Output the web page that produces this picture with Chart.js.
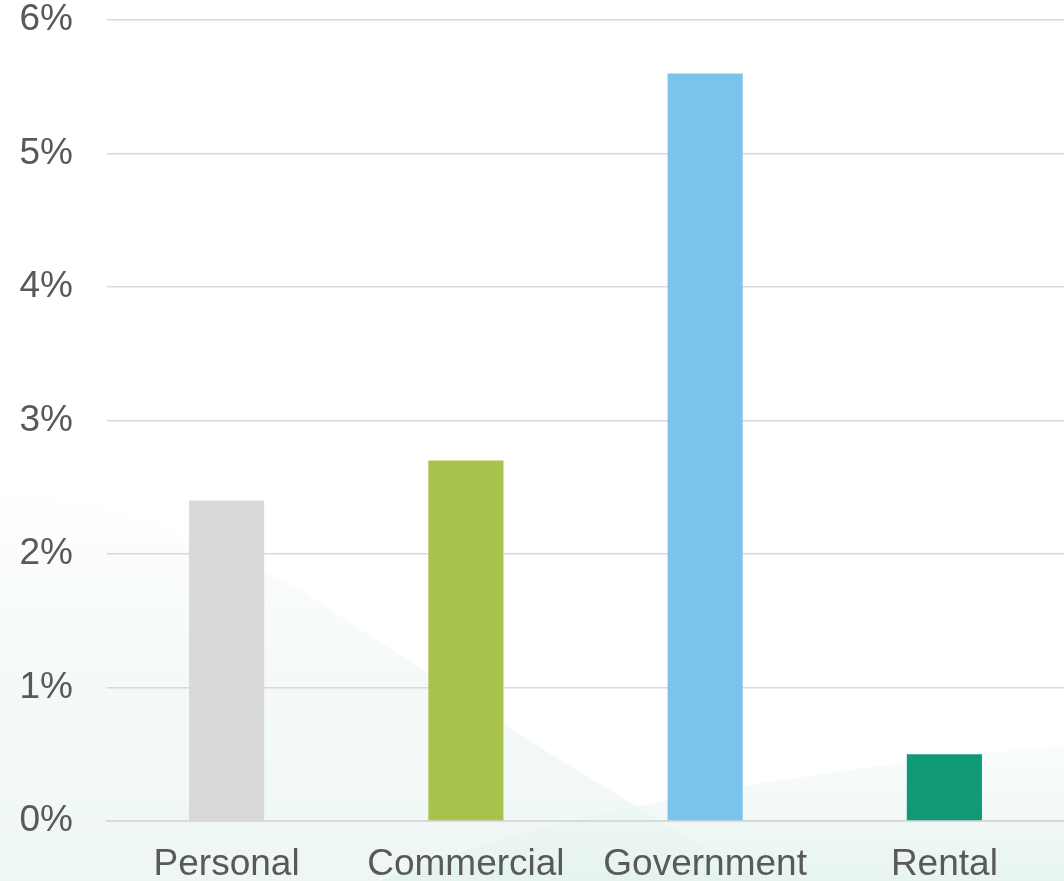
<!DOCTYPE html>
<html>
<head>
<meta charset="utf-8">
<script src="https://cdn.jsdelivr.net/npm/chart.js@4/dist/chart.umd.min.js"></script>
<style>
  html, body { margin: 0; padding: 0; background: #fff; }
  #wrap { width: 1064px; height: 881px; position: relative; }
</style>
</head>
<body>
<div id="wrap"><canvas id="myGraph"></canvas></div>
<script>
// growth by segment, percent
const categories = ['Personal', 'Commercial', 'Government', 'Rental'];
const growth = [2.4, 2.7, 5.6, 0.5];
const yTicks = [0, 1, 2, 3, 4, 5, 6];

const barColors = ['#d9d9d9', '#a8c34b', '#7ac3ea', '#0f9a75'];

// soft mint shapes behind the plot
const backdrop = {
    id: 'backdrop',
    beforeDraw(chart) {
        const ctx = chart.ctx;
        const w = chart.width, h = chart.height;
        ctx.save();
        ctx.fillStyle = '#ffffff';
        ctx.fillRect(0, 0, w, h);

        let g = ctx.createLinearGradient(0, 480, 0, h);
        g.addColorStop(0, 'rgba(240,246,245,0)');
        g.addColorStop(0.4, 'rgba(240,247,246,0.6)');
        g.addColorStop(1, 'rgba(236,246,243,0.9)');
        ctx.fillStyle = g;
        ctx.beginPath();
        ctx.moveTo(0, 490);
        ctx.quadraticCurveTo(120, 495, 300, 590);
        ctx.lineTo(560, 760);
        ctx.lineTo(760, h);
        ctx.lineTo(0, h);
        ctx.closePath();
        ctx.fill();

        g = ctx.createLinearGradient(0, 740, 0, h);
        g.addColorStop(0, 'rgba(242,248,246,0.4)');
        g.addColorStop(1, 'rgba(228,243,237,0.9)');
        ctx.fillStyle = g;
        ctx.beginPath();
        ctx.moveTo(380, h);
        ctx.quadraticCurveTo(600, 790, 1064, 745);
        ctx.lineTo(1064, h);
        ctx.closePath();
        ctx.fill();
        ctx.restore();
    }
};

const graph = document.getElementById('myGraph');
const labelFont = { family: '"Liberation Sans", Arial, sans-serif', size: 37 };

const myGraph = new Chart(graph, {
    type: 'bar',
    data: {
        labels: categories,
        datasets: [{
            data: growth,
            backgroundColor: barColors,
            borderWidth: 0,
            categoryPercentage: 1,
            barPercentage: 0.314
        }]
    },
    options: {
        responsive: true,
        maintainAspectRatio: false,
        animation: false,
        layout: { padding: 0 },
        plugins: {
            legend: { display: false },
            tooltip: { enabled: false }
        },
        scales: {
            x: {
                grid: { display: false },
                border: { color: '#d9d9d9', width: 2 },
                ticks: {
                    color: '#595959',
                    font: labelFont,
                    padding: 14,
                    maxRotation: 0
                },
                afterFit(scale) { scale.height = 60; }
            },
            y: {
                min: 0,
                max: 6,
                afterBuildTicks(scale) {
                    scale.ticks = yTicks.map(v => ({ value: v }));
                },
                grid: { color: '#d9d9d9', lineWidth: 1.5, drawTicks: false },
                border: { display: false },
                ticks: {
                    color: '#595959',
                    font: labelFont,
                    padding: 34,
                    callback: v => v + '%'
                },
                afterFit(scale) {
                    scale.width = 107;
                    scale.paddingTop = 20;
                    scale.paddingBottom = 0;
                }
            }
        }
    },
    plugins: [backdrop]
});
</script>
</body>
</html>
